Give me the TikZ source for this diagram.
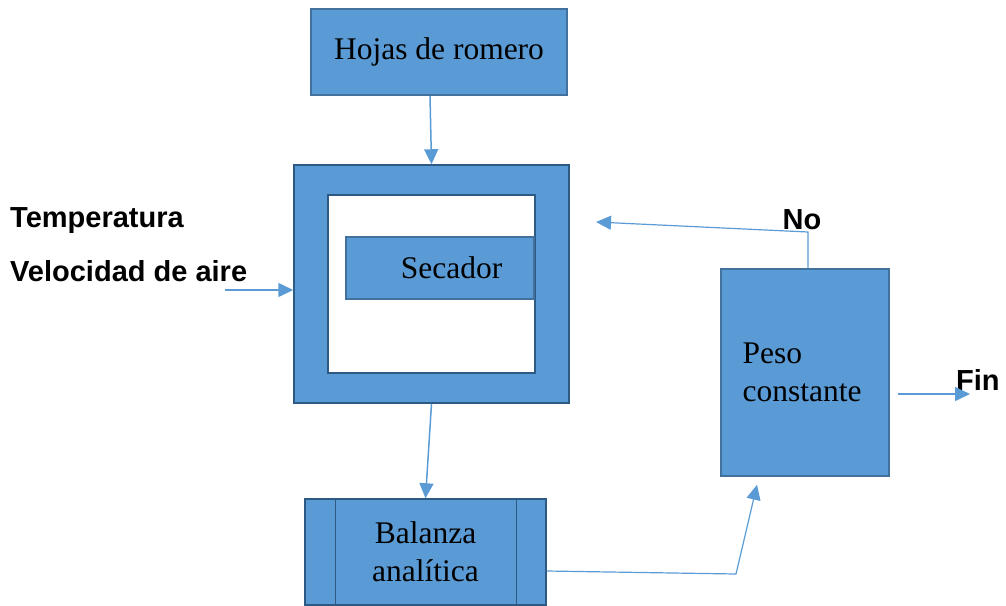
\documentclass[tikz,border=0pt]{standalone}
\usepackage{fontspec}
\setmainfont{Liberation Serif}
\setsansfont{Liberation Sans}
\usetikzlibrary{arrows.meta, positioning, calc}
\definecolor{azul}{HTML}{5B9BD5}
\definecolor{borde}{HTML}{41719C}
\definecolor{marino}{HTML}{2C5A85}
\tikzstyle{arrow} = [line width=1.5pt, draw=azul, ->, >={Triangle[length=15pt, width=14pt]}]
\tikzstyle{caja} = [rectangle, draw=borde, line width=1.5pt, fill=azul, inner sep=0pt, font=\fontsize{31.5}{38}\selectfont]
\tikzstyle{rotulo} = [font=\sffamily\bfseries\fontsize{29}{34}\selectfont, inner sep=0pt]

\begin{document}
\begin{tikzpicture}[x=1pt, y=-1pt]
    \useasboundingbox (0,0) rectangle (1006,605);
    % Bloques
    \node[caja, minimum width=256pt, minimum height=86pt] (hojas) at (439,52) {Hojas de romero};
    
    \node[caja, draw=marino, minimum width=275pt, minimum height=238pt] (secadorext) at (431.5,284) {};
    \node[rectangle, draw=marino, line width=2pt, fill=white, minimum width=207pt, minimum height=178pt] (camara) at (431.5,284) {};
    \node[caja, minimum width=188pt, minimum height=62pt] (secador) at (440,268) {\hspace*{23pt}Secador};
    
    \node[caja, draw=marino, minimum width=241pt, minimum height=106pt, align=center] (balanza) at (425.5,552) {Balanza\\analítica};
    \foreach \d in {31,212}
        \draw[marino, line width=1.5pt] ($(balanza.north west)+(\d,0)$) -- ($(balanza.south west)+(\d,0)$);
    
    \node[caja, minimum width=168pt, minimum height=207pt, align=left] (peso) at (805,372.5) {Peso\\constante\hspace*{6pt}};
    
    % Rotulos
    \node[rotulo, anchor=west] (temperatura) at (10,221) {Temperatura};
    \node[rotulo, anchor=west] (velocidad) at (10,271) {Velocidad de aire};
    \node[rotulo] (no) at (802,220) {No};
    \node[rotulo, anchor=west] (fin) at (956,380) {Fin};
    
    \coordinate (entrada) at (225,290);
    \coordinate (codo) at (736,574);
    \coordinate (retorno) at (808,232);
    \coordinate (regreso) at (596,222);
    \coordinate (salida) at (970,394);
    
    % Flujo
    \draw[arrow] ($(hojas.south)+(-9,0)$) -- (secadorext.north);
    \draw[arrow] (entrada) -- (entrada -| secadorext.west);
    \draw[arrow] (secadorext.south) -- (balanza.north);
    \draw[arrow, line width=1.2pt] ($(balanza.east)+(0,19)$) -- (codo) -- ($(peso.south)+(-48,8)$);
    \draw[arrow, line width=1.2pt] ($(peso.north)+(3,0)$) -- (retorno) -- (regreso);
    \draw[arrow] ($(peso.east)+(8,21.5)$) -- (salida);
    
\end{tikzpicture}
\end{document}
